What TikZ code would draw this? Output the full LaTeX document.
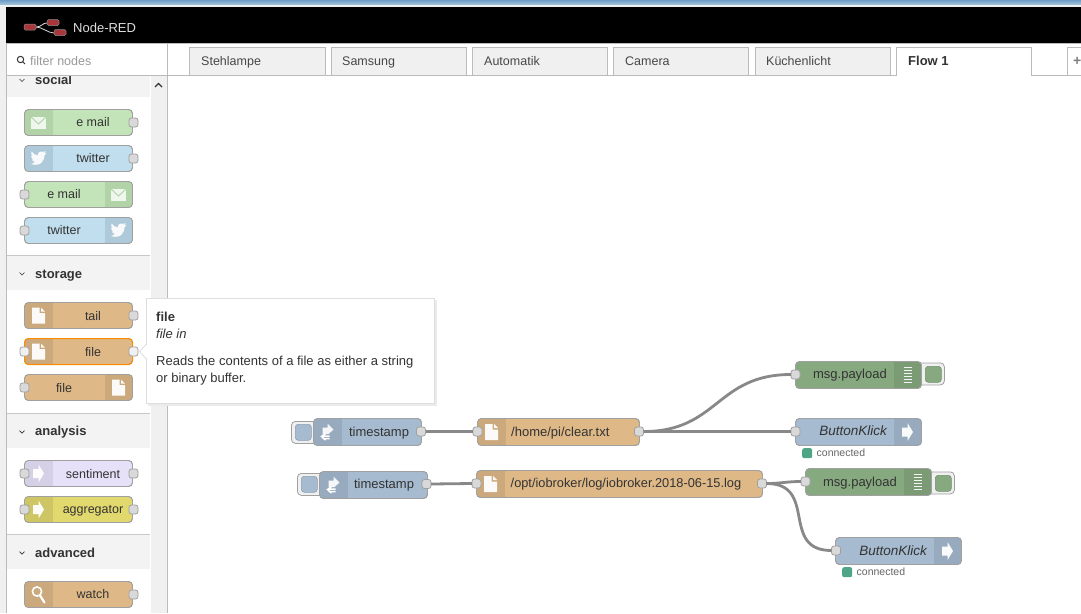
\documentclass[tikz,border=0pt]{standalone}
\usepackage{fontspec}
\setmainfont{Liberation Sans}
\definecolor{ink}{HTML}{333333}
\definecolor{edge}{HTML}{A0A0A0}
\definecolor{rule}{HTML}{BBBBBB}
\definecolor{mailc}{HTML}{C2E4B8}\definecolor{mailcD}{HTML}{B2D2A8}
\definecolor{twit}{HTML}{C0DEED}\definecolor{twitD}{HTML}{AECADA}
\definecolor{filec}{HTML}{DEB887}\definecolor{filecD}{HTML}{CBA97C}
\definecolor{lav}{HTML}{E6E0F8}\definecolor{lavD}{HTML}{D5D0E6}
\definecolor{yel}{HTML}{E2D96E}\definecolor{yelD}{HTML}{CEC664}
\definecolor{flowb}{HTML}{A6BBCF}\definecolor{flowbD}{HTML}{98ABBE}
\definecolor{flowg}{HTML}{87A980}\definecolor{flowgD}{HTML}{7B9B75}
\definecolor{wire}{HTML}{888888}
\definecolor{stat}{HTML}{4FA586}
\definecolor{F0col}{HTML}{F0F0F0}
\definecolor{portc}{HTML}{D9D9D9}
\definecolor{lred}{HTML}{A8373C}
\definecolor{bartop}{HTML}{6E9CC4}
\definecolor{barbot}{HTML}{A8C6DC}
\tikzset{
  x=1pt,y=-1pt,
  evenh/.style={text height=9pt,text depth=3pt},
  bodybox/.style={anchor=north west,inner sep=0pt,outer sep=0pt,rounded corners=4pt,draw=edge,line width=.8pt},
  portbox/.style={draw=edge,fill=#1,rounded corners=2.5pt,minimum width=9pt,minimum height=9pt,inner sep=0pt,outer sep=0pt,line width=.8pt},
  portbox/.default={portc},
  lbl/.style={evenh,text=ink,inner sep=0pt,font=\fontsize{12.5}{15}\selectfont},
  flbl/.style={evenh,text=ink,inner sep=0pt,font=\fontsize{13}{15}\selectfont},
  klbl/.style={evenh,anchor=east,text=ink,inner sep=0pt,font=\fontsize{13.5}{15}\selectfont\itshape},
  tabbox/.style={anchor=north west,draw=rule,fill=#1,inner sep=0pt,outer sep=0pt,minimum width=135.5pt,minimum height=28pt,line width=.9pt},
  tabbox/.default={F0col},
  tablbl/.style={evenh,anchor=west,text=#1,inner sep=0pt,font=\fontsize{12.5}{15}\selectfont},
  tablbl/.default={ink!90},
  cathead/.style={evenh,anchor=west,text=ink,inner sep=0pt,font=\fontsize{13}{15}\selectfont\bfseries},
  chev/.style={draw=ink,line width=.7pt},
  wirepath/.style={draw=wire,line width=2.8pt},
  btnouter/.style={anchor=north west,draw=edge,fill=F0col,rounded corners=4pt,minimum width=30pt,minimum height=22pt,inner sep=0pt,line width=.8pt},
  btninner/.style={anchor=north west,draw=#1!85!black,fill=#1,rounded corners=3pt,minimum width=16pt,minimum height=16pt,inner sep=0pt,line width=.6pt},
  statdot/.style={anchor=north west,fill=stat,rounded corners=2pt,minimum width=10pt,minimum height=10pt,inner sep=0pt},
  statlbl/.style={evenh,anchor=west,text=ink!75,inner sep=0pt,font=\fontsize{10.5}{12}\selectfont},
  tiplbl/.style={evenh,anchor=west,text=ink,inner sep=0pt,font=\fontsize{13}{15}\selectfont},
  logobox/.style={draw=black!45,line width=.5pt,fill=lred,rounded corners=1.5pt,minimum width=12pt,minimum height=6pt,inner sep=0pt},
}
\newcommand\icoMail{\fill[white,opacity=.8] (-7.5,-6) rectangle (7.5,6);
  \draw[mailcD,line width=.9pt] (-8,-6) -- (0,1.5) -- (8,-6);}
\newcommand\icoBird{\fill[white,opacity=.9] (-7.5,5.5) .. controls (-3,7) and (3,7) .. (5,1)
  .. controls (6,-1) and (6,-2) .. (6,-3) -- (8,-6) -- (5.5,-5) -- (7,-7.5) -- (4.5,-6.5)
  .. controls (2,-8) and (-1,-6) .. (-.5,-3) .. controls (-3,-3) and (-5.5,-5) .. (-7,-7)
  .. controls (-8,-5) and (-7,-2.5) .. (-6,-2) -- (-7.5,-2.5) .. controls (-7.5,-.5) and (-6,.5) .. (-5,1)
  -- (-6.5,1.2) .. controls (-6,2.5) and (-5,3) .. (-3.5,3.2) .. controls (-4.5,4.5) and (-6,5) .. (-7.5,5.5) -- cycle;}
\newcommand\icoFile{\fill[white,opacity=.95] (-6.5,-8) -- (1,-8) -- (1,-2.5) -- (6.5,-2.5) -- (6.5,8) -- (-6.5,8) -- cycle;
  \fill[white,opacity=.95] (2.5,-8) -- (6.5,-4) -- (2.5,-4) -- cycle;}
\newcommand\icoArrow{\fill[white,opacity=.95] (-5.5,-4.5) -- (0,-4.5) -- (0,-9) -- (5.5,0) -- (0,9) -- (0,4.5) -- (-5.5,4.5) -- cycle;}
\newcommand\icoLens{\draw[white,line width=1.6pt] (-1.5,-3) circle (4.6pt);
  \draw[white,line width=2.2pt,line cap=round] (1.5,1) -- (6,8);}
\newcommand\icoSwap{\fill[white,opacity=.9] (-5,-4.5) -- (0,-4.5) -- (0,-8.5) -- (6,-2.5) -- (1,2) -- (-5,2) -- cycle;
  \draw[white,line width=1.5pt] (-6,4) -- (2,4) (-2,1.5) -- (-6,4.5) -- (-2,8) (-5,6.5) -- (2,6.5);}
\newcommand\icoList{\foreach \yy in {-7.5,-4.5,-1.5,1.5,4.5,7.5}{\draw[white,opacity=.9,line width=1.3pt] (-4,\yy) -- (4,\yy);}}
\newcommand\blkh{26}
% name x y w colour side icon
\newcommand\fnblock[7]{%
  \node[bodybox,fill=#5,minimum width=#4pt,minimum height=\blkh pt] (#1) at (#2,#3) {};
  \if l#6\pgfmathsetmacro\pnlx{#2}\else\pgfmathsetmacro\pnlx{#2+#4-28}\fi
  \begin{scope}
    \clip[rounded corners=4pt] (#2,#3) rectangle ++(#4,\blkh);
    \fill[#5D] (\pnlx,#3) rectangle ++(28,\blkh);
  \end{scope}
  \draw[edge,line width=.8pt,rounded corners=4pt] (#1.north west) rectangle (#1.south east);
  \pgfmathsetmacro\icx{\pnlx+14}\pgfmathsetmacro\icy{#3+\blkh/2}
  \begin{scope}[shift={(\icx,\icy)}]#7\end{scope}
}
\begin{document}
\begin{tikzpicture}
\useasboundingbox (0,0) rectangle (1081,613);
\clip (0,0) rectangle (1081,613);
\fill[white] (0,0) rectangle (1081,613);
% window chrome
\fill[F0col] (0,0) rectangle (6,613);
\shade[top color=bartop,bottom color=barbot] (0,0) rectangle (1081,5);
\fill[F0col] (0,5) rectangle (1081,7);
\fill[black] (6,7) rectangle (1081,43);
\fill[rule] (6,43) rectangle (1081,44);
% logo
\draw[white!85!black,line width=.8pt] (36,27) .. controls (42,27) and (42,23) .. (47,23) (36,27) .. controls (42,27) and (48,33) .. (54,33);
\node[logobox] (logoa) at (30,27) {};
\node[logobox] (logob) at (53,22.5) {};
\node[logobox] (logoc) at (60,32.5) {};
\node[evenh,anchor=west,text=black!13,inner sep=0pt,font=\fontsize{13}{15}\selectfont] (brand) at (73,29) {Node-RED};
% palette categories
\fill[F0col!80!white] (7,76) rectangle (150,97);
\node[cathead] (catsocial) at (35,81) {social};
\draw[chev] (19.5,79) -- (22,81.5) -- (24.5,79);
\fill[F0col!80!white] (7,256) rectangle (150,290);
\node[cathead] (catstorage) at (35,275) {storage};
\draw[chev] (19.5,272.5) -- (22,275) -- (24.5,272.5);
\fill[F0col!80!white] (7,414) rectangle (150,448);
\node[cathead] (catanalysis) at (35,432) {analysis};
\draw[chev] (19.5,430.5) -- (22,433) -- (24.5,430.5);
\fill[F0col!80!white] (7,535) rectangle (150,569);
\node[cathead] (catadvanced) at (35,554) {advanced};
\draw[chev] (19.5,551.5) -- (22,554) -- (24.5,551.5);
\draw[rule!80!white,line width=.8pt] (7,255.5) -- (150,255.5) (7,413.5) -- (150,413.5) (7,534.5) -- (150,534.5);
% search bar
\fill[white] (7,44) rectangle (167,75);
\draw[rule,line width=.9pt] (167,75.5) -- (7,75.5);
\draw[ink,line width=1pt] (20.5,59.5) circle (3.2pt) (23,62) -- (25,64);
\node[evenh,anchor=west,text=black!40,inner sep=0pt,font=\fontsize{12.5}{15}\selectfont] (filter) at (30,62) {filter nodes};
% scrollbar and borders
\fill[F0col] (150.5,76) rectangle (167,613);
\draw[ink,line width=1.1pt] (155,87) -- (158.5,83.5) -- (162,87);
\draw[rule,line width=.9pt] (167.5,44) -- (167.5,613) (6.5,44) -- (6.5,613);
% tabs
\draw[rule,line width=.9pt] (167,75.5) -- (1081,75.5);
\node[tabbox] (t1) at (189.5,47.5) {};
\node[tabbox] (t2) at (331,47.5) {};
\node[tabbox] (t3) at (472,47.5) {};
\node[tabbox] (t4) at (613,47.5) {};
\node[tabbox] (t5) at (755,47.5) {};
\node[tabbox=white] (t6) at (896,47.5) {};
\fill[white] (897,74) rectangle (1031,77);
\node[tabbox=white] (t7) at (1067,47.5) {};
\node[tablbl] (t1l) at (201,62) {Stehlampe};
\node[tablbl] (t2l) at (342,62) {Samsung};
\node[tablbl] (t3l) at (484,62) {Automatik};
\node[tablbl] (t4l) at (625,62) {Camera};
\node[tablbl] (t5l) at (766,62) {Küchenlicht};
\node[tablbl=ink,font=\fontsize{13}{15}\selectfont\bfseries] (t6l) at (908,62) {Flow 1};
\node[tablbl=black!50,font=\fontsize{14}{15}\selectfont\bfseries] (t7l) at (1073,62) {+};
% palette nodes
\fnblock{pmail}{24.5}{109.5}{108}{mailc}{l}{\icoMail}
\node[lbl] (pmailt) at (93,123) {e mail};
\node[portbox] (pmailo) at (133.5,122.5) {};
\fnblock{ptw}{24.5}{145.5}{108}{twit}{l}{\icoBird}
\node[lbl] (ptwt) at (93,159) {twitter};
\node[portbox] (ptwo) at (133.5,158.5) {};
\fnblock{pmailb}{24.5}{181.5}{108}{mailc}{r}{\icoMail}
\node[lbl] (pmailbt) at (64,195) {e mail};
\node[portbox] (pmailbi) at (24.5,194.5) {};
\fnblock{ptwb}{24.5}{217.5}{108}{twit}{r}{\icoBird}
\node[lbl] (ptwbt) at (64,231) {twitter};
\node[portbox] (ptwbi) at (24.5,230.5) {};
\fnblock{ptail}{24.5}{302.5}{108}{filec}{l}{\icoFile}
\node[lbl] (ptailt) at (93,317) {tail};
\node[portbox] (ptailo) at (133.5,315.5) {};
\fnblock{pfile}{24.5}{338.5}{108}{filec}{l}{\icoFile}
\draw[orange!90!yellow,line width=1pt,rounded corners=4pt] (pfile.north west) rectangle (pfile.south east);
\node[lbl] (pfilet) at (93,353) {file};
\node[portbox=F0col] (pfilei) at (24.5,351.5) {};
\node[portbox=F0col] (pfileo) at (133.5,351.5) {};
\fnblock{pfileb}{24.5}{374.5}{108}{filec}{r}{\icoFile}
\node[lbl] (pfilebt) at (64,389) {file};
\node[portbox] (pfilebi) at (24.5,387.5) {};
\fnblock{psent}{24.5}{460.5}{108}{lav}{l}{\icoArrow}
\node[lbl] (psentt) at (93,475) {sentiment};
\node[portbox] (psenti) at (24.5,473.5) {};
\node[portbox] (psento) at (133.5,473.5) {};
\fnblock{pagg}{24.5}{496.5}{108}{yel}{l}{\icoArrow}
\node[lbl] (paggt) at (93,510) {aggregator};
\node[portbox] (paggi) at (24.5,509.5) {};
\node[portbox] (paggo) at (133.5,509.5) {};
\fnblock{pwatch}{24.5}{581.5}{108}{filec}{l}{\icoLens}
\node[lbl] (pwatcht) at (93,595) {watch};
\node[portbox] (pwatcho) at (133.5,594.5) {};
% tooltip
\fill[black!8] (148,300) rectangle (437,406);
\fill[white] (146,298) rectangle (435,404);
\draw[black!13,line width=.8pt] (146.5,298.5) rectangle (434.5,403.5);
\fill[white] (139.8,351.5) -- (147.5,344) -- (147.5,359) -- cycle;
\draw[black!13,line width=.8pt] (146.5,344) -- (139.5,351.5) -- (146.5,359);
\node[tiplbl,font=\fontsize{13}{15}\selectfont\bfseries] (tip1) at (156,318) {file};
\node[tiplbl,font=\fontsize{13}{15}\selectfont\itshape] (tip2) at (156,335) {file in};
\node[tiplbl] (tip3) at (156,362) {Reads the contents of a file as either a string};
\node[tiplbl] (tip4) at (156,379) {or binary buffer.};
% flow nodes
\renewcommand\blkh{27}
\node[btnouter] (b1) at (291,421) {};
\node[btninner=flowb] (b1i) at (295,424) {};
\fnblock{ts1}{313.5}{418.5}{108}{flowb}{l}{\icoSwap}
\node[flbl] (ts1t) at (379,433) {timestamp};
\node[portbox] (ts1o) at (421,431.5) {};
\fnblock{clr}{477.5}{418.5}{162}{filec}{l}{\icoFile}
\node[flbl,anchor=west] (clrt) at (511,433) {/home/pi/clear.txt};
\node[portbox] (clri) at (477.5,431.5) {};
\node[portbox] (clro) at (639,431.5) {};
\node[btnouter] (b2) at (914,362.5) {};
\fnblock{dbg1}{795.5}{361.5}{126}{flowg}{r}{\icoList}
\node[btninner=flowg] (b2i) at (925,366) {};
\node[flbl,anchor=east] (dbg1t) at (887,375) {msg.payload};
\node[portbox] (dbg1i) at (795.5,374.5) {};
\fnblock{klk1}{795.5}{418.5}{126}{flowb}{r}{\icoArrow}
\node[klbl] (klk1t) at (887,432) {ButtonKlick};
\node[portbox] (klk1i) at (795.5,431.5) {};
\node[statdot] (s1d) at (802,448) {};
\node[statlbl] (s1t) at (816.5,453) {connected};
\node[btnouter] (b3) at (297,473) {};
\node[btninner=flowb] (b3i) at (301,476) {};
\fnblock{ts2}{319.5}{471.5}{108}{flowb}{l}{\icoSwap}
\node[flbl] (ts2t) at (384,485) {timestamp};
\node[portbox] (ts2o) at (426.5,484) {};
\fnblock{lg}{476.5}{470.5}{286}{filec}{l}{\icoFile}
\node[flbl,anchor=west,font=\fontsize{12.8}{15}\selectfont] (lgt) at (510.5,484) {/opt/iobroker/log/iobroker.2018-06-15.log};
\node[portbox] (lgi) at (476.5,483.5) {};
\node[portbox] (lgo) at (762,483.5) {};
\node[btnouter] (b4) at (924,471.5) {};
\fnblock{dbg2}{805.5}{468.5}{126}{flowg}{r}{\icoList}
\node[btninner=flowg] (b4i) at (935,475) {};
\node[flbl,anchor=east] (dbg2t) at (897,483) {msg.payload};
\node[portbox] (dbg2i) at (805.5,481.5) {};
\fnblock{klk2}{835.5}{537.5}{126}{flowb}{r}{\icoArrow}
\node[klbl] (klk2t) at (927,552) {ButtonKlick};
\node[portbox] (klk2i) at (836,550.5) {};
\node[statdot] (s2d) at (842,567) {};
\node[statlbl] (s2t) at (856.5,572) {connected};
% wires
\draw[wirepath] (ts1o.east) -- (clri.west);
\draw[wirepath] (ts2o.east) -- (lgi.west);
\draw[wirepath] (clro.east) .. controls +(75,0) and +(-75,0) .. (dbg1i.west);
\draw[wirepath] (clro.east) -- (klk1i.west);
\draw[wirepath] (lgo.east) .. controls +(15,0) and +(-15,0) .. (dbg2i.west);
\draw[wirepath] (lgo.east) .. controls +(52,0) and +(-52,0) .. (klk2i.west);
\end{tikzpicture}
\end{document}
